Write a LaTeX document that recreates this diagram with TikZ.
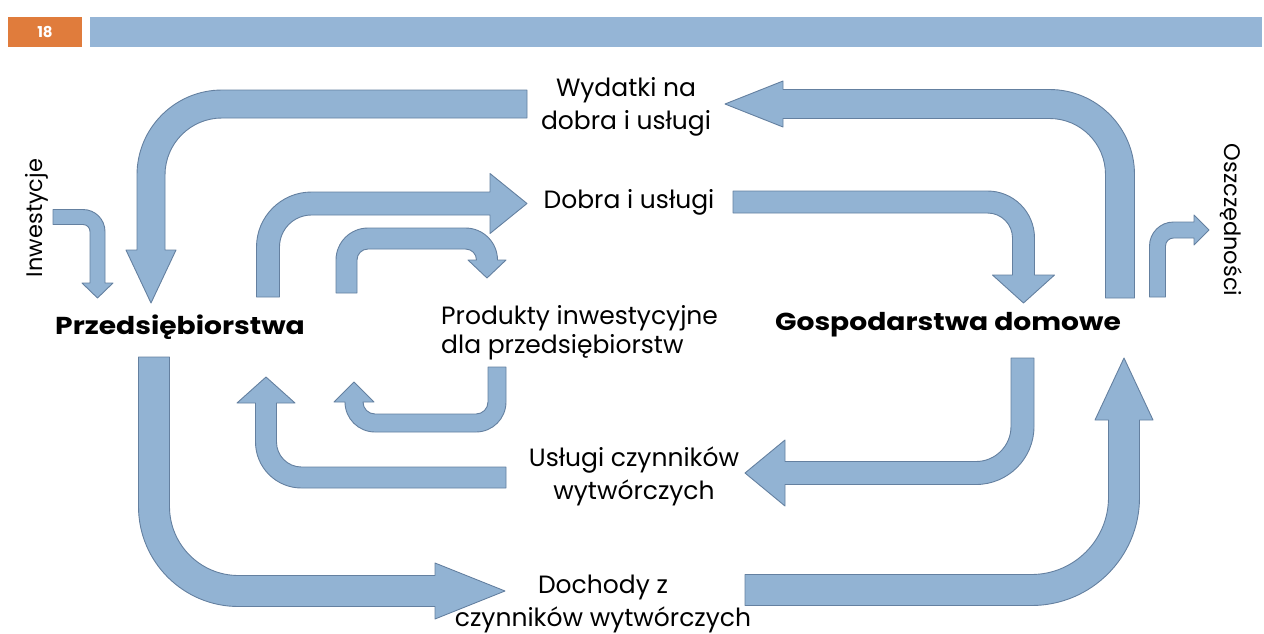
\documentclass[tikz,border=0pt]{standalone}
\usepackage{fontspec}
\setmainfont{Poppins}
\newfontfamily\widefont[FakeStretch=1.15]{Poppins}
\usetikzlibrary{positioning}

\definecolor{arrowfill}{RGB}{146,179,211}
\definecolor{arrowline}{RGB}{100,128,160}
\definecolor{barblue}{RGB}{149,181,214}
\definecolor{barorange}{RGB}{224,124,60}

\begin{document}
\begin{tikzpicture}[x=1pt, y=1pt, yscale=-1,
    flow/.style={fill=arrowfill, draw=arrowline, line width=0.9pt, line join=round},
    lbl/.style={font=\fontsize{25}{33}\selectfont, align=center, inner sep=0pt},
    side/.style={font=\fontsize{22.5}{26}\selectfont, inner sep=0pt},
    sector/.style={font=\widefont\fontsize{24.5}{28}\selectfont\bfseries, inner sep=0pt}]
\useasboundingbox (0,0) rectangle (1264,633);

% header
\fill[barorange] (8,17) rectangle (82,47);
\fill[barblue] (90,17) rectangle (1262,47);
\node[text=white, font=\fontsize{15}{17}\selectfont\bfseries] (page) at (45,32) {18};

% sectors
\node[sector] (firms) at (180,327) {Przedsiębiorstwa};
\node[sector] (homes) at (948,325) {Gospodarstwa domowe};

% flow labels
\node[lbl] (spend) at (626,107) {Wydatki na\\dobra i usługi};
\node[lbl] (goods) at (629,202) {Dobra i usługi};
\node[lbl, align=left, font=\fontsize{25}{29}\selectfont, anchor=west] (capital) at (441,333) {Produkty inwestycyjne\\dla przedsiębiorstw};
\node[lbl] (factors) at (634,476) {Usługi czynników\\wytwórczych};
\node[lbl] (income) at (603,604) {Dochody z\\czynników wytwórczych};
\node[side, rotate=90] (invest) at (37,218) {Inwestycje};
\node[side, rotate=-90] (save) at (1231,220) {Oszczędności};

% wydatki -> przedsiebiorstwa
\draw[flow] (527,90) -- (222,90) arc(270:180:85) -- (137,250) -- (126,250) -- (151,303)
  -- (176,250) -- (165,250) -- (165,175) arc(180:270:57) -- (527,118) -- cycle;
% gospodarstwa -> wydatki
\draw[flow] (1105.5,298) -- (1105.5,174.5) arc(0:-90:56) -- (783,118.5) -- (783,127) -- (725,104)
  -- (783,81) -- (783,89.5) -- (1049.5,89.5) arc(270:360:85) -- (1134.5,298) -- cycle;
% przedsiebiorstwa -> dobra
\draw[flow] (256.5,297) -- (256.5,247) arc(180:270:55) -- (490,192) -- (490,173.5) -- (527,203.5)
  -- (490,233.5) -- (490,215) -- (311.5,215) arc(270:180:32) -- (279.5,297) -- cycle;
% dobra -> gospodarstwa
\draw[flow] (733,191) -- (987.5,191) arc(270:360:47) -- (1034.5,275) -- (1054.5,275) -- (1023.5,303)
  -- (992.5,275) -- (1012.5,275) -- (1012.5,238) arc(0:-90:25) -- (733,213) -- cycle;
% przedsiebiorstwa -> produkty
\draw[flow] (336,293) -- (336,260) arc(180:270:32) -- (465.5,228) arc(270:360:32) -- (506,260)
  -- (487,278) -- (468,260) -- (476.5,260) arc(0:-90:11) -- (368,249) arc(270:180:11) -- (357,293) -- cycle;
% produkty -> przedsiebiorstwa
\draw[flow] (488,367) -- (506,367) -- (506,402) arc(0:90:30) -- (375,432) arc(90:180:30) -- (334,402)
  -- (354,382) -- (374,402) -- (363,402) arc(180:90:12) -- (476,414) arc(90:0:12) -- cycle;
% uslugi -> przedsiebiorstwa
\draw[flow] (506,467) -- (301.5,467) arc(90:180:25) -- (276.5,403) -- (295,403) -- (266,377)
  -- (237,403) -- (255.5,403) -- (255.5,442) arc(180:90:46) -- (506,488) -- cycle;
% gospodarstwa -> uslugi
\draw[flow] (1011,358) -- (1034,358) -- (1034,426.5) arc(0:90:58) -- (785,484.5) -- (785,506)
  -- (745,473) -- (785,440) -- (785,461.5) -- (976,461.5) arc(90:0:35) -- cycle;
% przedsiebiorstwa -> dochody
\draw[flow] (138.5,357) -- (169.5,357) -- (169.5,506.5) arc(180:90:69) -- (435,575.5) -- (435,563)
  -- (505,591) -- (435,619) -- (435,606.5) -- (238.5,606.5) arc(90:180:100) -- cycle;
% dochody -> gospodarstwa
\draw[flow] (745,574.5) -- (1031.5,574.5) arc(90:0:77) -- (1108.5,420) -- (1095,420) -- (1124,358)
  -- (1153,420) -- (1139.5,420) -- (1139.5,497.5) arc(0:90:108) -- (745,605.5) -- cycle;
% inwestycje
\draw[flow] (53,209.5) -- (83,209.5) arc(270:360:22) -- (105,283) -- (113,283) -- (97.5,298)
  -- (82,283) -- (90,283) -- (90,231.5) arc(0:-90:7) -- (53,224.5) -- cycle;
% oszczednosci
\draw[flow] (1149.5,297) -- (1149.5,246) arc(180:270:24) -- (1194,222) -- (1194,215) -- (1209,230)
  -- (1194,245) -- (1194,238) -- (1173.5,238) arc(270:180:8) -- (1165.5,297) -- cycle;
\end{tikzpicture}
\end{document}
